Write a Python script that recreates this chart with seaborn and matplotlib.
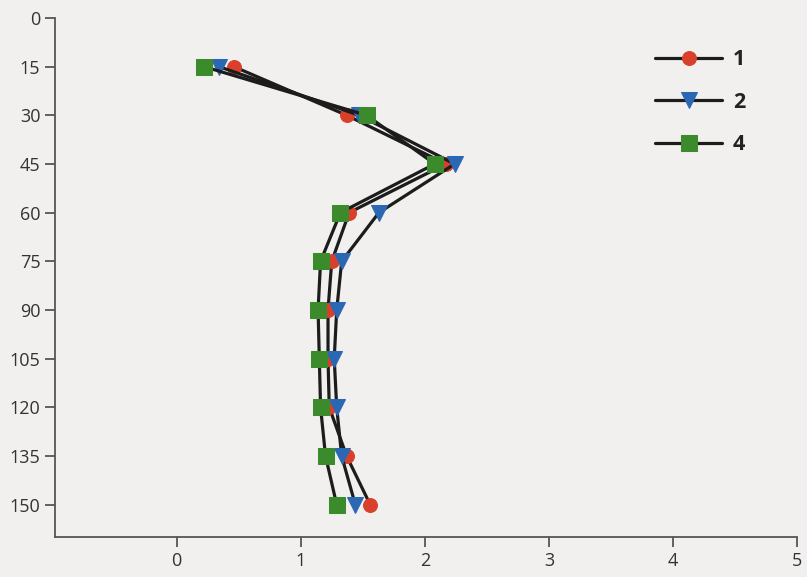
import matplotlib
matplotlib.use("Agg")
import matplotlib.pyplot as plt
import numpy as np
import pandas as pd
import seaborn as sns

# depth levels (y axis, inverted)
depth = [15, 30, 45, 60, 75, 90, 105, 120, 135, 150]

# series values
s1 = [0.46, 1.37, 2.17, 1.39, 1.25, 1.22, 1.22, 1.23, 1.37, 1.56]
s2 = [0.34, 1.47, 2.24, 1.63, 1.33, 1.29, 1.27, 1.29, 1.33, 1.44]
s4 = [0.22, 1.53, 2.08, 1.32, 1.16, 1.14, 1.15, 1.16, 1.20, 1.29]

labels = ["1", "2", "4"]
x_ticks = [0, 1, 2, 3, 4, 5]
y_ticks = [0, 15, 30, 45, 60, 75, 90, 105, 120, 135, 150]

bg = "#f1f0ee"
sns.set_style("ticks")
plt.rcParams["font.family"] = ["Open Sans", "DejaVu Sans"]

fig = plt.figure(figsize=(8.07, 5.77), dpi=100, facecolor=bg)
ax = fig.add_axes([0.068, 0.069, 0.920, 0.900])
ax.set_facecolor(bg)

styles = [
    dict(marker="o", markersize=10, mfc="#d9402b", mec="#d9402b"),
    dict(marker="v", markersize=12, mfc="#2b68b3", mec="#2b68b3"),
    dict(marker="s", markersize=11, mfc="#3b8a2c", mec="#3b8a2c"),
]

for vals, lab, st in zip([s1, s2, s4], labels, styles):
    df = pd.DataFrame({"x": vals, "depth": depth})
    sns.lineplot(data=df, x="x", y="depth", ax=ax, sort=False, orient="y",
                 estimator=None, color="#1c1c1c", linewidth=2.3, label=lab,
                 marker=st["marker"], markersize=st["markersize"],
                 markerfacecolor=st["mfc"], markeredgecolor=st["mec"])

ax.set_xlim(-0.98, 5)
ax.set_ylim(160, 0)
ax.set_xticks(x_ticks)
ax.set_yticks(y_ticks)
ax.set_xlabel("")
ax.set_ylabel("")

for side in ["top", "right"]:
    ax.spines[side].set_visible(False)
for side in ["left", "bottom"]:
    ax.spines[side].set_color("#555555")
    ax.spines[side].set_linewidth(1.3)
ax.spines["left"].set_bounds(0, 160)
ax.tick_params(direction="out", length=7, width=1.3, color="#555555",
               labelsize=13, labelcolor="#333333")

leg = ax.legend(loc="upper left", bbox_to_anchor=(0.788, 0.948),
                bbox_transform=fig.transFigure, frameon=False,
                handlelength=3.1, labelspacing=1.0, handletextpad=0.5,
                prop={"weight": "bold", "size": 15.5})
for t in leg.get_texts():
    t.set_color("#222222")

plt.savefig("out.png", dpi=100, facecolor=bg)
plt.close()
